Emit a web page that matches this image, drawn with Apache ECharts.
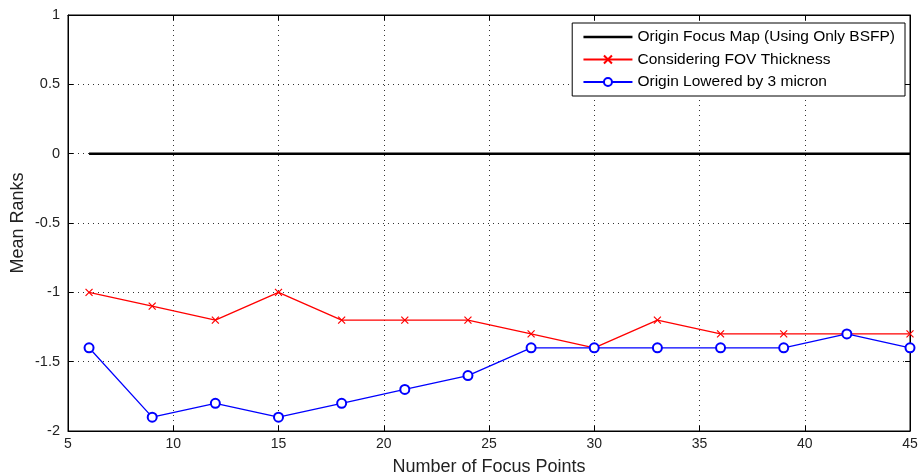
<!DOCTYPE html>
<html><head><meta charset="utf-8">
<script src="https://cdn.jsdelivr.net/npm/echarts@6/dist/echarts.min.js"></script>
<style>html,body{margin:0;padding:0;background:#fff}#c{width:920px;height:476px}</style>
</head><body><div id="c"></div>
<script>
const focusPoints = [6, 9, 12, 15, 18, 21, 24, 27, 30, 33, 36, 39, 42, 45];
const originMap   = [0, 0, 0, 0, 0, 0, 0, 0, 0, 0, 0, 0, 0, 0];
const fovThick    = [-1.0, -1.1, -1.2, -1.0, -1.2, -1.2, -1.2, -1.3, -1.4, -1.2, -1.3, -1.3, -1.3, -1.3];
const lowered3    = [-1.4, -1.9, -1.8, -1.9, -1.8, -1.7, -1.6, -1.4, -1.4, -1.4, -1.4, -1.4, -1.3, -1.4];
const seriesNames = ['Origin Focus Map (Using Only BSFP)', 'Considering FOV Thickness', 'Origin Lowered by 3 micron'];
const xTitle = 'Number of Focus Points';
const yTitle = 'Mean Ranks';

const pair = arr => focusPoints.map((x, i) => [x, arr[i]]);
const font = 'Liberation Sans, Arial, sans-serif';
const chart = echarts.init(document.getElementById('c'), null, {renderer: 'canvas'});
const crossPath = 'path://M0,0L10,10M10,0L0,10';
const gridDots = {show: true, lineStyle: {color: '#333', type: [1, 4], width: 1}};
chart.setOption({
  animation: false,
  backgroundColor: '#fff',
  grid: {left: 68, right: 10, top: 15, bottom: 45, outerBoundsMode: 'none', containLabel: false,
         show: true, borderColor: '#000', borderWidth: 1, backgroundColor: 'transparent'},
  legend: {
    orient: 'vertical', right: 15, top: 23,
    backgroundColor: '#fff', borderColor: '#000', borderWidth: 1,
    padding: [6, 10, 6, 10], itemGap: 6.5, itemWidth: 49, itemHeight: 10,
    textStyle: {fontFamily: font, fontSize: 15.5, color: '#000'},
    data: [{name: seriesNames[0], itemStyle: {opacity: 0}, lineStyle: {width: 2.5}}, seriesNames[1], seriesNames[2]]
  },
  xAxis: [{
    type: 'value', min: 5, max: 45, interval: 5,
    name: xTitle, nameLocation: 'middle', nameGap: 27, nameMoveOverlap: false,
    nameTextStyle: {fontFamily: font, fontSize: 18, color: '#222'},
    axisLine: {show: true, onZero: false, lineStyle: {color: '#000'}},
    axisTick: {show: true, inside: true, length: 5, lineStyle: {color: '#000'}},
    axisLabel: {fontFamily: font, fontSize: 14, color: '#222', margin: 6},
    splitLine: gridDots
  }, {
    type: 'value', position: 'top', min: 5, max: 45, interval: 5,
    axisLine: {show: true, onZero: false, lineStyle: {color: '#000'}},
    axisTick: {show: true, inside: true, length: 5, lineStyle: {color: '#000'}},
    axisLabel: {show: false}, splitLine: {show: false}
  }],
  yAxis: [{
    type: 'value', min: -2, max: 1, interval: 0.5,
    name: yTitle, nameLocation: 'middle', nameGap: 41, nameMoveOverlap: false,
    nameTextStyle: {fontFamily: font, fontSize: 18, color: '#222'},
    axisLine: {show: true, onZero: false, lineStyle: {color: '#000'}},
    axisTick: {show: true, inside: true, length: 5, lineStyle: {color: '#000'}},
    axisLabel: {fontFamily: font, fontSize: 14.5, color: '#222', margin: 8},
    splitLine: gridDots
  }, {
    type: 'value', position: 'right', min: -2, max: 1, interval: 0.5,
    axisLine: {show: true, onZero: false, lineStyle: {color: '#000'}},
    axisTick: {show: true, inside: true, length: 5, lineStyle: {color: '#000'}},
    axisLabel: {show: false}, splitLine: {show: false}
  }],
  series: [{
    name: seriesNames[0], type: 'line', data: pair(originMap),
    symbol: 'none',
    lineStyle: {color: '#000', width: 2.5}, itemStyle: {color: '#000'}
  }, {
    name: seriesNames[1], type: 'line', data: pair(fovThick),
    symbol: crossPath, symbolSize: 7,
    lineStyle: {color: '#ff0000', width: 1.3},
    itemStyle: {color: '#ff0000', borderColor: '#ff0000', borderWidth: 1.2}
  }, {
    name: seriesNames[2], type: 'line', data: pair(lowered3),
    symbol: 'emptyCircle', symbolSize: 9,
    lineStyle: {color: '#0000ff', width: 1.3},
    itemStyle: {color: '#0000ff', borderColor: '#0000ff', borderWidth: 1.2}
  }]
});
</script></body></html>
